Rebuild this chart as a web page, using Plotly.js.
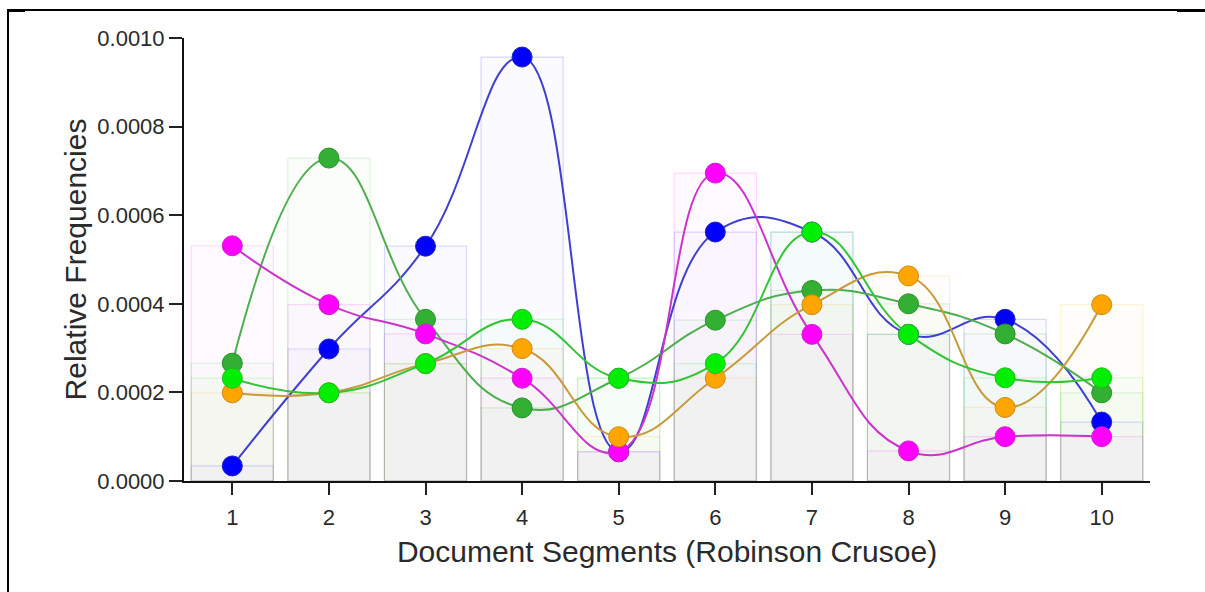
<!DOCTYPE html>
<html>
<head>
<meta charset="utf-8">
<script src="https://cdn.plot.ly/plotly-3.0.1.min.js"></script>
<style>
  html, body { margin: 0; padding: 0; background: #fff; }
  #wrap { position: relative; width: 1205px; height: 592px; overflow: hidden; }
  #chart { position: absolute; left: 0; top: 0; width: 1205px; height: 592px; }
  .frame-top { position: absolute; left: 7px; top: 9px; width: 1198px; height: 0; border-top: 2px solid #000; }
  .frame-left { position: absolute; left: 7px; top: 9px; width: 0; height: 583px; border-left: 2px solid #000; }
  .frame-tl { position: absolute; left: 7px; top: 9px; width: 18px; height: 3px; background: #000; }
  .frame-tr { position: absolute; left: 1177px; top: 9px; width: 28px; height: 3px; background: #000; }
</style>
</head>
<body>
<div id="wrap">
  <div id="chart"></div>
  <div class="frame-top"></div>
  <div class="frame-left"></div>
  <div class="frame-tl"></div>
  <div class="frame-tr"></div>
</div>
<script>
// Document segments
const segments = [1, 2, 3, 4, 5, 6, 7, 8, 9, 10];

// Relative frequencies per series
const blueSeries    = [0.000034, 0.000298, 0.000530, 0.000957, 0.000066, 0.000562, 0.000562, 0.000331, 0.000365, 0.000133];
const greenSeries   = [0.000266, 0.000729, 0.000365, 0.000165, 0.000232, 0.000363, 0.000430, 0.000400, 0.000332, 0.000199];
const magentaSeries = [0.000531, 0.000398, 0.000332, 0.000232, 0.000066, 0.000695, 0.000331, 0.000068, 0.000100, 0.000100];
const orangeSeries  = [0.000199, 0.000199, 0.000265, 0.000299, 0.000100, 0.000232, 0.000398, 0.000463, 0.000166, 0.000398];
const limeSeries    = [0.000232, 0.000199, 0.000265, 0.000365, 0.000232, 0.000265, 0.000562, 0.000331, 0.000233, 0.000233];

const seriesList = [
  { y: blueSeries,    marker: '#0000ff', edge: '#2222bb', line: '#4040d0', rgb: '0,0,255' },
  { y: greenSeries,   marker: '#33b033', edge: '#2a902a', line: '#4caf4c', rgb: '51,176,51' },
  { y: magentaSeries, marker: '#ff00ff', edge: '#cc22cc', line: '#cc33cc', rgb: '255,0,255' },
  { y: orangeSeries,  marker: '#ffa500', edge: '#d08a10', line: '#c89a3c', rgb: '255,165,0' },
  { y: limeSeries,    marker: '#00ee00', edge: '#22bb22', line: '#33c433', rgb: '0,238,0' }
];

const traces = [];
// faint bars behind
seriesList.forEach(s => {
  traces.push({
    type: 'bar',
    x: segments,
    y: s.y,
    width: 0.85,
    marker: { color: 'rgba(' + s.rgb + ',0.018)', line: { color: 'rgba(' + s.rgb + ',0.14)', width: 1.2 } },
    hoverinfo: 'skip',
    showlegend: false
  });
});
// spline lines + points
seriesList.forEach(s => {
  traces.push({
    type: 'scatter',
    mode: 'lines+markers',
    x: segments,
    y: s.y,
    line: { shape: 'spline', smoothing: 1.3, color: s.line, width: 2 },
    marker: { size: 20, color: s.marker, line: { color: s.edge, width: 1 } },
    cliponaxis: false,
    showlegend: false
  });
});

const layout = {
  width: 1205,
  height: 592,
  margin: { l: 184, r: 55, t: 38, b: 111 },
  paper_bgcolor: '#ffffff',
  plot_bgcolor: '#ffffff',
  barmode: 'overlay',
  showlegend: false,
  font: { family: 'Liberation Sans, Arial, sans-serif', color: '#2a2a2a' },
  xaxis: {
    range: [0.5, 10.5],
    tickvals: segments,
    ticktext: segments.map(String),
    ticks: 'outside',
    ticklen: 12,
    tickwidth: 2,
    tickcolor: '#222',
    ticklabelstandoff: 4,
    showline: true,
    linecolor: '#111',
    linewidth: 2,
    showgrid: false,
    zeroline: false,
    tickfont: { size: 22, color: '#2a2a2a' },
    title: { text: 'Document Segments (Robinson Crusoe)', font: { size: 30, color: '#2a2a2a' }, standoff: 12 }
  },
  yaxis: {
    range: [0, 0.001],
    dtick: 0.0002,
    tick0: 0,
    tickformat: '.4f',
    ticks: 'outside',
    ticklen: 13,
    tickwidth: 2,
    tickcolor: '#222',
    showline: true,
    linecolor: '#111',
    linewidth: 2,
    showgrid: false,
    zeroline: false,
    tickfont: { size: 22, color: '#2a2a2a' },
    title: { text: 'Relative Frequencies', font: { size: 30, color: '#2a2a2a' }, standoff: 2 }
  }
};

Plotly.newPlot('chart', traces, layout, { displayModeBar: false, staticPlot: true });
</script>
</body>
</html>
